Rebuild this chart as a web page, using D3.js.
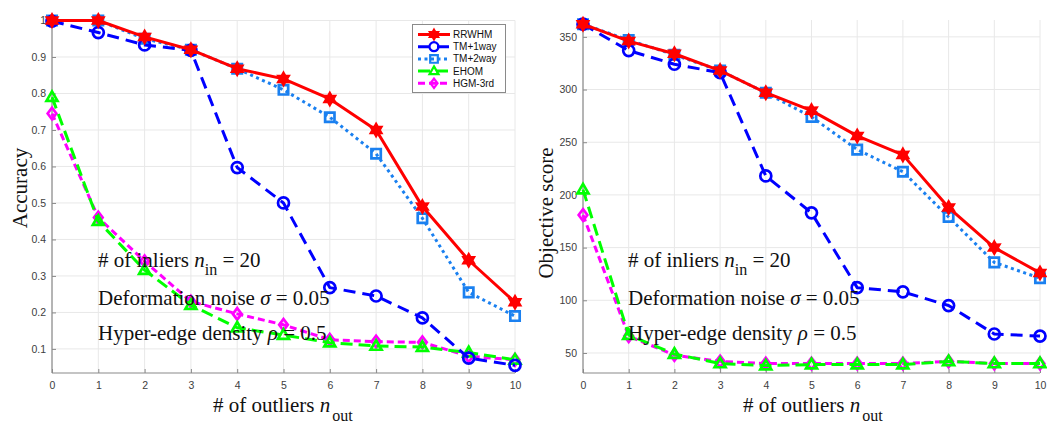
<!DOCTYPE html>
<html><head><meta charset="utf-8">
<script src="https://cdn.jsdelivr.net/npm/d3@7"></script>
<style>body{margin:0;background:#fff}svg{display:block}</style>
</head><body>
<svg id="c" width="1047" height="426"></svg>
<script>
const xs = [0,1,2,3,4,5,6,7,8,9,10];
const seriesNames = ["RRWHM","TM+1way","TM+2way","EHOM","HGM-3rd"];
// Accuracy (left)
const accRRWHM = [1.0,1.0,0.955,0.92,0.868,0.84,0.785,0.70,0.49,0.343,0.228];
const accTM1 = [0.998,0.967,0.933,0.918,0.597,0.50,0.268,0.245,0.185,0.075,0.055];
const accTM2 = [1.0,1.0,0.95,0.92,0.868,0.81,0.735,0.635,0.458,0.255,0.19];
const accEHOM = [0.79,0.45,0.316,0.22,0.158,0.138,0.117,0.108,0.105,0.09,0.07];
const accHGM = [0.745,0.46,0.34,0.23,0.196,0.166,0.125,0.12,0.118,0.08,0.07];
// Objective score (right)
const objRRWHM = [362,346,334,318,297,280,256,238,188,150,126];
const objTM1 = [362,337,324,316,218,183,112,108,95,68,66];
const objTM2 = [362,347,333,318,297,274,243,222,179,136,121];
const objEHOM = [205,67,49,40,38,39,39,39,42,40,40];
const objHGM = [181,66,48,42,40,40,40,40,42,40,40];
const accTicks = [0.1,0.2,0.3,0.4,0.5,0.6,0.7,0.8,0.9,1];
const objTicks = [50,100,150,200,250,300,350];

const styles = {
  "RRWHM": {color:"#ff0000", dash:null, marker:"hex"},
  "TM+1way": {color:"#0000ff", dash:"12,7", marker:"circle"},
  "TM+2way": {color:"#1a80f0", dash:"3,3.5", marker:"square"},
  "EHOM": {color:"#00ff00", dash:"12,6", marker:"tri"},
  "HGM-3rd": {color:"#ff00ff", dash:"7,4", marker:"diamond"}
};
const drawOrder = ["HGM-3rd","EHOM","TM+2way","TM+1way","RRWHM"];

const svg = d3.select("#c");

function markerPath(type, r){
  if(type==="circle"){ return d3.symbol(d3.symbolCircle, Math.PI*r*r)(); }
  if(type==="square"){ const s=r*0.85; return `M${-s},${-s}H${s}V${s}H${-s}Z`; }
  if(type==="tri"){ const s=r*1.05; return `M0,${-s}L${s*0.95},${s*0.65}L${-s*0.95},${s*0.65}Z`; }
  if(type==="diamond"){ const s=r*1.05; return `M0,${-s}L${s*0.75},0L0,${s}L${-s*0.75},0Z`; }
  if(type==="hex"){
    let p=[]; const ro=r*1.05, ri=r*0.6;
    for(let i=0;i<12;i++){const a=-Math.PI/2+i*Math.PI/6; const rr=i%2?ri:ro; p.push([rr*Math.cos(a), rr*Math.sin(a)]);}
    return "M"+p.map(d=>d.join(",")).join("L")+"Z";
  }
}

function panel(cfg){
  const g = svg.append("g");
  const x = d3.scaleLinear().domain([0,10]).range([cfg.x0,cfg.x1]);
  const y = d3.scaleLinear().domain(cfg.yDom).range([373,cfg.yTop]);
  // grid
  g.append("g").selectAll("line").data(xs).join("line")
    .attr("x1",d=>x(d)).attr("x2",d=>x(d)).attr("y1",y.range()[1]).attr("y2",373)
    .attr("stroke","#e8e8e8").attr("stroke-width",1);
  g.append("g").selectAll("line").data(cfg.ticks).join("line")
    .attr("x1",cfg.x0).attr("x2",cfg.x1).attr("y1",d=>y(d)).attr("y2",d=>y(d))
    .attr("stroke","#e8e8e8").attr("stroke-width",1);
  // axes
  const xa = g.append("g").attr("transform","translate(0,373)")
    .call(d3.axisBottom(x).tickValues(xs).tickSize(-4).tickPadding(9).tickFormat(d3.format("d")));
  const ya = g.append("g").attr("transform",`translate(${cfg.x0},0)`)
    .call(d3.axisLeft(y).tickValues(cfg.ticks).tickSize(-4).tickPadding(6).tickFormat(cfg.fmt));
  [xa,ya].forEach(a=>{
    a.select(".domain").attr("stroke","#8a8a8a").attr("stroke-width",1.2);
    a.selectAll(".tick line").attr("stroke","#8a8a8a");
    a.selectAll("text").attr("font-family","Liberation Sans, Arial, sans-serif").attr("font-size",10.5).attr("fill","#404040");
  });
  ya.select(".domain").attr("d",`M0,${y.range()[1]}V373`);
  xa.select(".domain").attr("d",`M${cfg.x0},0H${cfg.x1}`);
  // lines
  const line = d3.line().x((d,i)=>x(xs[i])).y(d=>y(d));
  drawOrder.forEach(name=>{
    const st = styles[name], vals = cfg.data[name];
    g.append("path").attr("d",line(vals)).attr("fill","none").attr("stroke",st.color)
      .attr("stroke-width",3).attr("stroke-dasharray",st.dash).attr("stroke-linejoin","round");
    g.append("g").selectAll("path").data(vals).join("path")
      .attr("transform",(d,i)=>`translate(${x(xs[i])},${y(d)})`)
      .attr("d",markerPath(st.marker,5.5)).attr("fill",st.marker==="hex"?st.color:"none")
      .attr("stroke",st.color).attr("stroke-width",2.7);
  });
  // y label
  svg.append("text").attr("transform",`translate(${cfg.ylx},${cfg.yly}) rotate(-90)`)
    .attr("text-anchor","middle").attr("font-family","Liberation Serif, Times New Roman, serif")
    .attr("font-size",21).attr("fill","#111").text(cfg.ylab);
  // x label
  const xl = svg.append("text").attr("x",cfg.xlx).attr("y",412)
    .attr("font-family","Liberation Serif, Times New Roman, serif").attr("font-size",21).attr("fill","#111");
  xl.append("tspan").text("# of outliers ");
  xl.append("tspan").attr("font-style","italic").text("n");
  xl.append("tspan").attr("dy",9).attr("dx",2).attr("font-size",16).text("out");
  // annotations
  const fam = "Liberation Serif, Times New Roman, serif";
  const fs = 21;
  const a1 = svg.append("text").attr("x",cfg.ax).attr("y",267).attr("font-family",fam).attr("font-size",fs).attr("fill","#111");
  a1.append("tspan").text("# of inliers ");
  a1.append("tspan").attr("font-style","italic").text("n");
  a1.append("tspan").attr("dy",8).attr("font-size",16).text("in");
  a1.append("tspan").attr("dy",-8).text(" = 20");
  const a2 = svg.append("text").attr("x",cfg.ax).attr("y",305).attr("font-family",fam).attr("font-size",fs).attr("fill","#111");
  a2.append("tspan").text("Deformation noise ");
  a2.append("tspan").attr("font-style","italic").text("σ");
  a2.append("tspan").text(" = 0.05");
  const a3 = svg.append("text").attr("x",cfg.ax).attr("y",340).attr("font-family",fam).attr("font-size",fs).attr("fill","#111");
  a3.append("tspan").text("Hyper-edge density ");
  a3.append("tspan").attr("font-style","italic").text("ρ");
  a3.append("tspan").text(" = 0.5");
}

panel({x0:52,x1:515,yTop:20.5,yDom:[0.034,1.0],ticks:accTicks,fmt:d=>d===1?"1":d3.format(".1f")(d),
  data:{"RRWHM":accRRWHM,"TM+1way":accTM1,"TM+2way":accTM2,"EHOM":accEHOM,"HGM-3rd":accHGM},
  ylab:"Accuracy",ylx:27,yly:188,xlx:213,ax:98});
panel({x0:583,x1:1040,yTop:20,yDom:[31,366],ticks:objTicks,fmt:d3.format("d"),
  data:{"RRWHM":objRRWHM,"TM+1way":objTM1,"TM+2way":objTM2,"EHOM":objEHOM,"HGM-3rd":objHGM},
  ylab:"Objective score",ylx:553,yly:213,xlx:743,ax:628});

// legend
const lg = svg.append("g");
lg.append("rect").attr("x",412.5).attr("y",24.5).attr("width",93).attr("height",68)
  .attr("fill","#fff").attr("stroke","#8a8a8a").attr("stroke-width",1);
seriesNames.forEach((name,i)=>{
  const st = styles[name], yy = 34.5 + i*12.2;
  lg.append("line").attr("x1",418).attr("x2",450).attr("y1",yy).attr("y2",yy)
    .attr("stroke",st.color).attr("stroke-width",3).attr("stroke-dasharray",st.dash);
  lg.append("path").attr("transform",`translate(434,${yy})`).attr("d",markerPath(st.marker,4.5))
    .attr("fill",st.marker==="hex"?st.color:"none").attr("stroke",st.color).attr("stroke-width",2.2);
  lg.append("text").attr("x",453).attr("y",yy+3.5).attr("font-family","Liberation Sans, Arial, sans-serif")
    .attr("font-size",10).attr("fill","#111").text(name);
});
</script>
</body></html>
